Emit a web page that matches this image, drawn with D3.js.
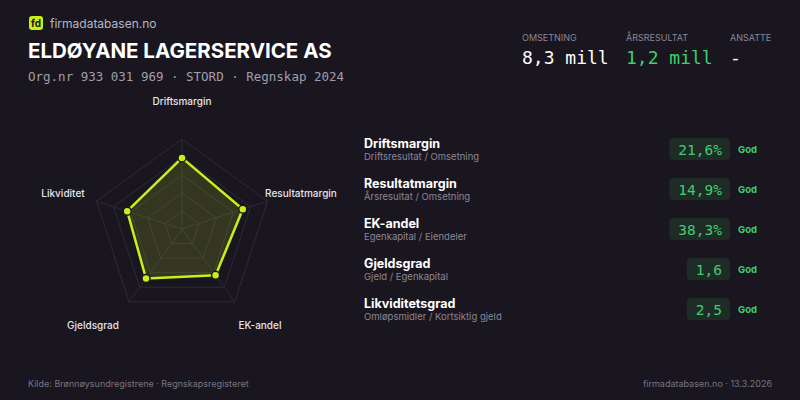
<!DOCTYPE html>
<html><head><meta charset="utf-8">
<script src="https://cdn.jsdelivr.net/npm/d3@7"></script>
<style>
body{margin:0;background:#1a1620;}
svg{display:block;font-family:Inter,"DejaVu Sans",sans-serif;}
.mono{font-family:"DejaVu Sans Mono","Liberation Mono",monospace;}
</style></head><body>
<svg id="c" width="800" height="400"></svg>
<script>
// radar axes and normalised scores (0-1)
var axes = ["Driftsmargin", "Resultatmargin", "EK-andel", "Gjeldsgrad", "Likviditet"];
var scores = [0.79, 0.71, 0.635, 0.68, 0.64];

// key figure table
var rowTitles = ["Driftsmargin", "Resultatmargin", "EK-andel", "Gjeldsgrad", "Likviditetsgrad"];
var rowSubs = ["Driftsresultat / Omsetning", "Årsresultat / Omsetning", "Egenkapital / Eiendeler", "Gjeld / Egenkapital", "Omløpsmidler / Kortsiktig gjeld"];
var rowValues = ["21,6%", "14,9%", "38,3%", "1,6", "2,5"];
var rowRatings = ["God", "God", "God", "God", "God"];

var gridLevels = [0.2, 0.4, 0.6, 0.8, 1.0];

var svg = d3.select("#c");
svg.append("rect").attr("width", 800).attr("height", 400).attr("fill", "#1a1620");

// header
svg.append("rect").attr("x", 29).attr("y", 16).attr("width", 14).attr("height", 14).attr("rx", 3).attr("fill", "#c8f018");
svg.append("text").attr("x", 36).attr("y", 27).attr("text-anchor", "middle").attr("font-size", 10).attr("font-weight", 700).attr("fill", "#1a1620").text("fd");
svg.append("text").attr("x", 50).attr("y", 28).attr("font-size", 12).attr("fill", "#b8b5c0").text("firmadatabasen.no");
svg.append("text").attr("x", 28).attr("y", 58).attr("font-size", 20.5).attr("font-weight", 700).attr("fill", "#ffffff").text("ELDØYANE LAGERSERVICE AS");
svg.append("text").attr("class", "mono").attr("x", 28).attr("y", 81).attr("font-size", 12.5).attr("fill", "#a19eab").text("Org.nr 933 031 969  ·  STORD  ·  Regnskap 2024");

var kpis = [["OMSETNING", "8,3 mill", "#ffffff", 522], ["ÅRSRESULTAT", "1,2 mill", "#3ecf6e", 626], ["ANSATTE", "-", "#ffffff", 730]];
kpis.forEach(function(k) {
  svg.append("text").attr("x", k[3]).attr("y", 41).attr("font-size", 9).attr("fill", "#8a8794").text(k[0]);
  svg.append("text").attr("class", "mono").attr("x", k[3]).attr("y", 64).attr("font-size", 18).attr("fill", k[2]).text(k[1]);
});

// radar
var cx = 182, cy = 229, R = 90;
var r = d3.scaleLinear().domain([0, 1]).range([0, R]);
var ang = d3.scaleLinear().domain([0, axes.length]).range([0, 2 * Math.PI]);
function pt(i, v) { var a = ang(i); return [cx + r(v) * Math.sin(a), cy - r(v) * Math.cos(a)]; }

var g = svg.append("g");
gridLevels.forEach(function(l) {
  g.append("polygon").attr("points", axes.map(function(d, i) { return pt(i, l).join(","); }).join(" "))
    .attr("fill", "none").attr("stroke", "#2e2a36").attr("stroke-width", 1);
});
axes.forEach(function(d, i) {
  var p = pt(i, 1);
  g.append("line").attr("x1", cx).attr("y1", cy).attr("x2", p[0]).attr("y2", p[1]).attr("stroke", "#2e2a36");
});
g.append("polygon").attr("points", scores.map(function(v, i) { return pt(i, v).join(","); }).join(" "))
  .attr("fill", "rgba(200,240,24,0.15)").attr("stroke", "#c8f018").attr("stroke-width", 2.5).attr("stroke-linejoin", "round");
scores.forEach(function(v, i) {
  var p = pt(i, v);
  g.append("circle").attr("cx", p[0]).attr("cy", p[1]).attr("r", 4).attr("fill", "#c8f018").attr("stroke", "#1a1620").attr("stroke-width", 1.5);
});
var labelPos = [[182, 105], [301, 197], [260, 329], [93, 329], [63, 197]];
axes.forEach(function(d, i) {
  svg.append("text").attr("x", labelPos[i][0]).attr("y", labelPos[i][1]).attr("text-anchor", "middle")
    .attr("font-size", 10).attr("font-weight", 500).attr("fill", "#e6e4ea").text(d);
});

// table
var y0 = d3.scaleBand().domain(d3.range(rowTitles.length)).range([136, 336]);
rowTitles.forEach(function(t, i) {
  var y = y0(i);
  svg.append("text").attr("x", 364).attr("y", y + 12).attr("font-size", 12.5).attr("font-weight", 700).attr("fill", "#ffffff").text(t);
  svg.append("text").attr("x", 364).attr("y", y + 24).attr("font-size", 9.5).attr("fill", "#8a8794").text(rowSubs[i]);
  var txt = svg.append("text").attr("class", "mono").attr("x", 722).attr("y", y + 19).attr("text-anchor", "end")
    .attr("font-size", 14.5).attr("fill", "#3ecf6e").text(rowValues[i]);
  var w = txt.node().getComputedTextLength();
  svg.insert("rect", function() { return txt.node(); }).attr("x", 722 - w - 9).attr("y", y + 2).attr("width", w + 17).attr("height", 22)
    .attr("rx", 4).attr("fill", "#1f2b26");
  svg.append("text").attr("x", 738).attr("y", y + 17).attr("font-size", 9.5).attr("font-weight", 700).attr("fill", "#3ecf6e").text(rowRatings[i]);
});

// footer
svg.append("text").attr("x", 28).attr("y", 387).attr("font-size", 9).attr("fill", "#77747f").text("Kilde: Brønnøysundregistrene · Regnskapsregisteret");
svg.append("text").attr("x", 772).attr("y", 387).attr("text-anchor", "end").attr("font-size", 9).attr("fill", "#77747f").text("firmadatabasen.no · 13.3.2026");
</script>
</body></html>
